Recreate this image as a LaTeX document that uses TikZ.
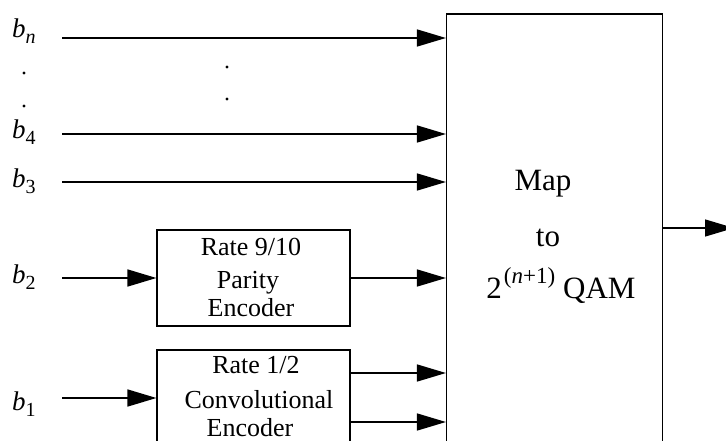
\documentclass[tikz,border=0pt]{standalone}
\usepackage{fontspec}
\setmainfont{Liberation Serif}
\usetikzlibrary{arrows.meta}
\newcommand\blab[2]{\textit{b}\raisebox{-6pt}{\fontsize{20}{20}\selectfont #2}}
\begin{document}
\begin{tikzpicture}[x=1pt,y=-1pt,
  conn/.style={line width=1.4pt,-{Triangle[length=29pt,width=17pt]}},
  boxed/.style={draw,line width=1.1pt,inner sep=0pt},
  txt/.style={font=\fontsize{26}{26}\selectfont,anchor=base,inner sep=0pt},
  bigtxt/.style={font=\fontsize{31}{31}\selectfont,anchor=base,inner sep=0pt},
  lab/.style={font=\fontsize{27}{27}\selectfont,anchor=base west,inner sep=0pt},
  dotm/.style={circle,fill,inner sep=0pt,minimum size=3.2pt}]
\useasboundingbox (0,0) rectangle (726,441);
\clip (0,0) rectangle (726,441);
% boxes
\node[boxed,minimum width=216pt,minimum height=450pt] (map) at (554.5,239) {};
\node[boxed,minimum width=193pt,minimum height=96pt] (par) at (253.5,278) {};
\node[boxed,minimum width=193pt,minimum height=120pt] (conv) at (253.5,410) {};
% box texts
\node[txt] (r1) at (251,255) {Rate 9/10};
\node[txt] (p1) at (248,288) {Parity};
\node[txt] (e1) at (251,316) {Encoder};
\node[txt] (r2) at (256,373) {Rate 1/2};
\node[txt] (c2) at (259,408) {Convolutional};
\node[txt] (e2) at (250,436) {Encoder};
\node[bigtxt] (m1) at (543,190) {Map};
\node[bigtxt] (m2) at (548,247) {to};
\node[bigtxt] (m3) at (561,298) {2\hspace{2pt}\raisebox{15pt}{\fontsize{23}{23}\selectfont(\textit{n}+1)}\hspace{8pt}QAM};
% labels
\node[lab] (lbn) at (12,38) {\blab{b}{\textit{n}}};
\node[lab] (lb4) at (12,139) {\blab{b}{4}};
\node[lab] (lb3) at (12,187) {\blab{b}{3}};
\node[lab] (lb2) at (12,283) {\blab{b}{2}};
\node[lab] (lb1) at (12,410) {\blab{b}{1}};
% dots
\node[dotm] (d1) at (24,73) {};
\node[dotm] (d2) at (24,106) {};
\node[dotm] (d3) at (227,67) {};
\node[dotm] (d4) at (227,99) {};
% connectors
\coordinate (sn) at (62,38);
\coordinate (s4) at (62,134);
\coordinate (s3) at (62,182);
\coordinate (s2) at (62,278);
\coordinate (s1) at (62,398);
\coordinate (c1) at (350,373);
\coordinate (c2o) at (350,422);
\coordinate (out) at (734,228);
\draw[conn] (sn) -- (sn -| map.west);
\draw[conn] (s4) -- (s4 -| map.west);
\draw[conn] (s3) -- (s3 -| map.west);
\draw[conn] (s2) -- (par.west);
\draw[conn] (par.east) -- (par.east -| map.west);
\draw[conn] (s1) -- (s1 -| conv.west);
\draw[conn] (c1) -- (c1 -| map.west);
\draw[conn] (c2o) -- (c2o -| map.west);
\draw[conn] (out -| map.east) -- (out);
\end{tikzpicture}
\end{document}
